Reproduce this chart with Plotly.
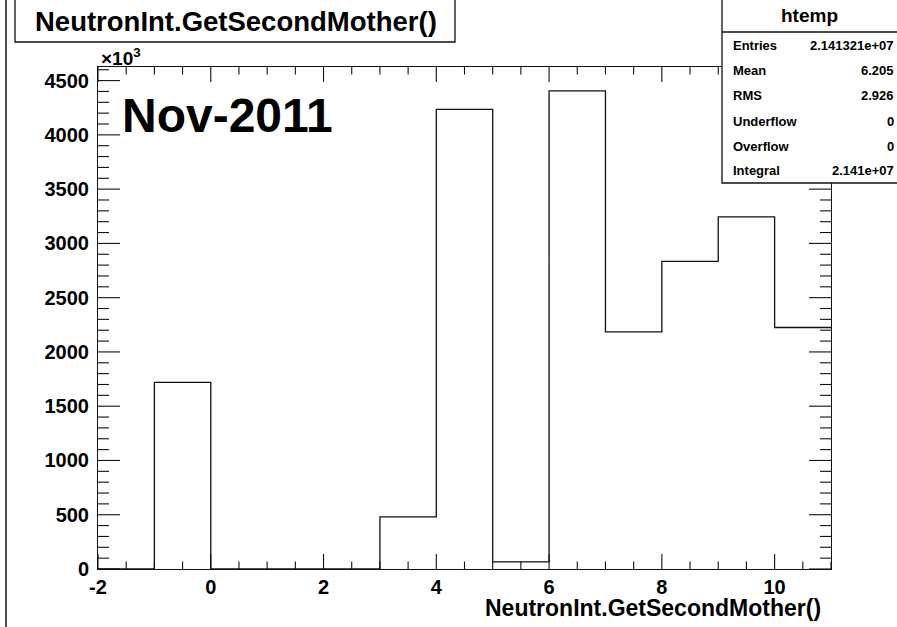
import plotly.graph_objects as go

# Histogram of NeutronInt.GetSecondMother(), unit-width bins from -2 to 11 (counts in units of 10^3)
bin_edges = [-2, -1, 0, 1, 2, 3, 4, 5, 6, 7, 8, 9, 10, 11]
counts_k = [0, 1720, 0, 0, 0, 480, 4235, 65, 4405, 2185, 2835, 3245, 2225]

x_ticks = [-2, 0, 2, 4, 6, 8, 10]
y_ticks = [0, 500, 1000, 1500, 2000, 2500, 3000, 3500, 4000, 4500]
x_minor_step = 0.5
y_minor_step = 100

stats_labels = ["Entries", "Mean", "RMS", "Underflow", "Overflow", "Integral"]
stats_values = ["2.141321e+07", "6.205", "2.926", "0", "0", "2.141e+07"]

W, H = 897, 627
L, R, T, B = 98, 66, 67, 58
PW, PH = W - L - R, H - T - B

FONT = "Liberation Sans, Arial, Helvetica, sans-serif"
INK = "#111111"

x_range = [bin_edges[0], bin_edges[-1]]
y_range = [0, 1.05 * max(counts_k)]


def px(xp):
    return (xp - L) / PW


def py(yp):
    return (H - B - yp) / PH


fig = go.Figure()
fig.add_trace(go.Scatter(
    x=bin_edges,
    y=counts_k + [counts_k[-1]],
    mode="lines",
    line=dict(shape="hv", color=INK, width=1.3),
    hoverinfo="skip",
    showlegend=False,
))

axis_common = dict(
    showgrid=False, zeroline=False, showline=True, linecolor=INK, linewidth=1,
    mirror=True, ticks="",
    tickfont=dict(family=FONT, size=20, color="black", weight="bold"),
)

fig.update_xaxes(range=x_range, tickmode="array", tickvals=x_ticks,
                 ticktext=[str(v) for v in x_ticks], **axis_common)
fig.update_yaxes(range=y_range, tickmode="array", tickvals=y_ticks,
                 ticktext=[str(v) for v in y_ticks], ticklabelstandoff=4, **axis_common)

shapes = []


def tick_line(**kw):
    shapes.append(dict(type="line", line=dict(color=INK, width=1.1), layer="above", **kw))


# inside ticks on all four sides of the frame
n = 0
while True:
    v = x_range[0] + n * x_minor_step
    if v > x_range[1] + 1e-9:
        break
    ln = 15 if any(abs(v - t) < 1e-9 for t in x_ticks) else 7.5
    tick_line(xref="x", yref="paper", x0=v, x1=v, y0=0, y1=ln / PH)
    tick_line(xref="x", yref="paper", x0=v, x1=v, y0=1, y1=1 - ln / PH)
    n += 1

n = 0
while True:
    v = y_range[0] + n * y_minor_step
    if v > y_range[1]:
        break
    ln = 22 if any(abs(v - t) < 1e-9 for t in y_ticks) else 11
    tick_line(xref="paper", yref="y", x0=0, x1=ln / PW, y0=v, y1=v)
    tick_line(xref="paper", yref="y", x0=1, x1=1 - ln / PW, y0=v, y1=v)
    n += 1

shapes += [
    # canvas edge on the left
    dict(type="line", xref="paper", yref="paper", x0=px(6), x1=px(6), y0=py(H + 2), y1=py(-2),
         line=dict(color=INK, width=1.5)),
    # title box
    dict(type="rect", xref="paper", yref="paper", x0=px(15), x1=px(455), y0=py(42), y1=py(-3),
         line=dict(color=INK, width=1.3), fillcolor="white"),
    # statistics box
    dict(type="rect", xref="paper", yref="paper", x0=px(722), x1=px(W + 3), y0=py(183), y1=py(-3),
         line=dict(color=INK, width=1.3), fillcolor="white", layer="above"),
    dict(type="line", xref="paper", yref="paper", x0=px(722), x1=px(W + 3), y0=py(32), y1=py(32),
         line=dict(color=INK, width=1.3)),
]

annotations = [
    dict(text="NeutronInt.GetSecondMother()", xref="paper", yref="paper", x=px(236), y=py(21),
         xanchor="center", yanchor="middle", showarrow=False,
         font=dict(family=FONT, size=27.5, color="black", weight="bold")),
    dict(text="×10<sup>3</sup>", xref="paper", yref="paper", x=px(99), y=py(57),
         xanchor="left", yanchor="middle", showarrow=False,
         font=dict(family=FONT, size=19, color="black", weight="bold")),
    dict(text="Nov-2011", xref="paper", yref="paper", x=px(120), y=py(115),
         xanchor="left", yanchor="middle", showarrow=False,
         font=dict(family=FONT, size=48, color="black", weight="bold")),
    dict(text="NeutronInt.GetSecondMother()", xref="paper", yref="paper", x=px(823), y=py(608),
         xanchor="right", yanchor="middle", showarrow=False,
         font=dict(family=FONT, size=23, color="black", weight="bold")),
    dict(text="htemp", xref="paper", yref="paper", x=px(809), y=py(15),
         xanchor="center", yanchor="middle", showarrow=False,
         font=dict(family=FONT, size=19, color="black", weight="bold")),
]

row_y = [45, 70, 96, 121, 146, 170]
for lab, val, yy in zip(stats_labels, stats_values, row_y):
    annotations.append(dict(text=lab, xref="paper", yref="paper", x=px(731), y=py(yy),
                            xanchor="left", yanchor="middle", showarrow=False,
                            font=dict(family=FONT, size=13, color="black", weight="bold")))
    annotations.append(dict(text=val, xref="paper", yref="paper", x=px(896), y=py(yy),
                            xanchor="right", yanchor="middle", showarrow=False,
                            font=dict(family=FONT, size=13, color="black", weight="bold")))

fig.update_layout(
    width=W, height=H,
    margin=dict(l=L, r=R, t=T, b=B, pad=0),
    paper_bgcolor="white", plot_bgcolor="white",
    shapes=shapes, annotations=annotations,
    showlegend=False,
)

fig.write_html("out.html", include_plotlyjs=True, config={"displayModeBar": False})
